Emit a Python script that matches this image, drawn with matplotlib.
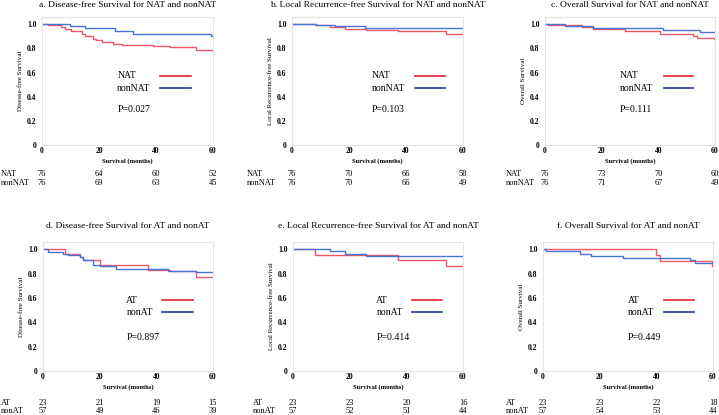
import numpy as np
import matplotlib
matplotlib.use('Agg')
import matplotlib.pyplot as plt

matplotlib.rcParams['font.family'] = 'Liberation Serif'

#---------------------------------------------------------------------------------------#
# data (months, survival probability)
a_nat_t = [0, 2, 6.5, 8, 10, 14, 15, 18, 19, 21, 25, 28, 39, 45, 54, 60]
a_nat_s = [1.0, 0.99, 0.98, 0.96, 0.94, 0.92, 0.90, 0.88, 0.87, 0.85, 0.84, 0.83, 0.82, 0.81, 0.79, 0.79]
a_non_t = [0, 9.7, 15, 25.5, 31.9, 59.3, 60]
a_non_s = [1.0, 0.985, 0.967, 0.945, 0.923, 0.90, 0.90]

b_nat_t = [0, 8.4, 13.2, 18.5, 26, 37.2, 54, 60]
b_nat_s = [1.0, 0.99, 0.978, 0.963, 0.952, 0.94, 0.92, 0.92]
b_non_t = [0, 8.4, 15, 25.5, 60]
b_non_s = [1.0, 0.99, 0.985, 0.97, 0.97]

c_nat_t = [0, 1, 13, 17, 28.2, 40.6, 52.2, 53.5, 59.7, 60]
c_nat_s = [1.0, 0.99, 0.978, 0.959, 0.945, 0.923, 0.903, 0.887, 0.88, 0.88]
c_non_t = [0, 7.1, 17, 41.6, 54.7, 60]
c_non_s = [1.0, 0.986, 0.97, 0.95, 0.937, 0.937]

d_at_t = [0, 7.6, 13, 14.1, 20, 37, 44.7, 54.1, 60]
d_at_s = [1.0, 0.96, 0.94, 0.915, 0.87, 0.83, 0.82, 0.775, 0.775]
d_non_t = [0, 1.8, 7, 8.8, 13, 14.1, 17.6, 20, 25.9, 44.1, 54.1, 60]
d_non_s = [1.0, 0.98, 0.962, 0.95, 0.935, 0.915, 0.875, 0.862, 0.84, 0.825, 0.815, 0.815]

e_at_t = [0, 7.6, 37, 54, 60]
e_at_s = [1.0, 0.957, 0.909, 0.862, 0.862]
e_non_t = [0, 13, 18.2, 25.9, 60]
e_non_s = [1.0, 0.982, 0.965, 0.945, 0.945]

f_at_t = [0, 40, 41.2, 59.7, 60]
f_at_s = [1.0, 0.955, 0.907, 0.865, 0.865]
f_non_t = [0, 1, 13, 17, 28.2, 51.8, 53.5, 60]
f_non_s = [1.0, 0.982, 0.965, 0.947, 0.93, 0.91, 0.89, 0.89]

titles = ["a. Disease-free Survival for NAT and nonNAT",
          "b. Local Recurrence-free Survival for NAT and nonNAT",
          "c. Overall Survival for NAT and nonNAT",
          "d. Disease-free Survival for AT and nonAT",
          "e. Local Recurrence-free Survival for AT and nonAT",
          "f. Overall Survival for AT and nonAT"]
ylabels = ["Disease-free Survival", "Local Recurrence-free Survival", "Overall Survival"] * 2
groups = [("NAT", "nonNAT")] * 3 + [("AT", "nonAT")] * 3
pvalues = ["P=0.027", "P=0.103", "P=0.111", "P=0.897", "P=0.414", "P=0.449"]

risk_times = [0, 20, 40, 60]
risk_g1 = [[76, 64, 60, 52], [76, 70, 66, 58], [76, 73, 70, 60],
           [23, 21, 19, 15], [23, 23, 20, 16], [23, 23, 22, 18]]
risk_g2 = [[76, 69, 63, 45], [76, 70, 66, 49], [76, 71, 67, 49],
           [57, 49, 46, 39], [57, 52, 51, 44], [57, 54, 53, 44]]

curves = [(a_nat_t, a_nat_s, a_non_t, a_non_s),
          (b_nat_t, b_nat_s, b_non_t, b_non_s),
          (c_nat_t, c_nat_s, c_non_t, c_non_s),
          (d_at_t, d_at_s, d_non_t, d_non_s),
          (e_at_t, e_at_s, e_non_t, e_non_s),
          (f_at_t, f_at_s, f_non_t, f_non_s)]

#---------------------------------------------------------------------------------------#
# layout (pixels of a 719x415 figure)
W, H = 719.0, 415.0
ax_left = [42, 292, 545, 43, 293, 543]
ax_right = [213, 463, 715, 213, 463, 713]
ax_top = [17, 17, 17, 242, 242, 242]
ax_bot = [145, 145, 145, 371, 371, 371]
lab_x = [1, 247, 506, 1, 253, 506]
row_y = [(174, 183)] * 3 + [(403, 411)] * 3
leg_x = [0.44, 0.466, 0.44, 0.49, 0.49, 0.498]
leg_line = [(0.69, 0.87), (0.72, 0.895), (0.70, 0.87), (0.70, 0.88), (0.70, 0.877), (0.71, 0.89)]
leg_y = [(0.54, 0.445, 0.28)] * 3 + [(0.55, 0.456, 0.257)] * 3

red_c, blue_c = '#ee5866', '#4674d8'
red_l, blue_l = '#e0202a', '#1f3aa0'

fig = plt.figure(figsize=(7.19, 4.15), dpi=100)

for i in range(6):
    l, r, t, b = ax_left[i], ax_right[i], ax_top[i], ax_bot[i]
    ax = fig.add_axes([l / W, 1 - b / H, (r - l) / W, (b - t) / H])
    t1, s1, t2, s2 = curves[i]
    ax.step(t1, s1, where='post', color=red_c, lw=1.0)
    ax.step(t2, s2, where='post', color=blue_c, lw=1.0)
    ax.set_xlim(0, 60)
    ax.set_ylim(0, 1.06)
    ax.set_xticks([0, 20, 40, 60])
    ax.set_yticks([0, 0.2, 0.4, 0.6, 0.8, 1.0])
    ax.set_yticklabels(["0", "0.2", "0.4", "0.6", "0.8", "1.0"])
    for sp in ax.spines.values():
        sp.set_color('#e4e4e4')
        sp.set_linewidth(0.8)
    ax.tick_params(length=0, labelsize=5.5, pad=1.5)
    ax.tick_params(axis='y', pad=4)
    for lab in ax.get_xticklabels() + ax.get_yticklabels():
        lab.set_fontweight('bold')
    ax.set_xlabel("Survival (months)", fontsize=4.7, fontweight='bold', labelpad=2.5)
    ax.set_ylabel(ylabels[i], fontsize=5, labelpad=3)
    ax.set_title(titles[i], fontsize=6.8, pad=7 if i < 3 else 10)

    # legend drawn by hand
    g1, g2 = groups[i]
    y1, y2, yp = leg_y[i]
    ax.text(leg_x[i], y1, g1, transform=ax.transAxes, fontsize=7, va='center')
    ax.text(leg_x[i], y2, g2, transform=ax.transAxes, fontsize=7, va='center')
    ax.plot(leg_line[i], [y1, y1], transform=ax.transAxes, color=red_l, lw=1.2)
    ax.plot(leg_line[i], [y2, y2], transform=ax.transAxes, color=blue_l, lw=1.2)
    ax.text(leg_x[i], yp, pvalues[i], transform=ax.transAxes, fontsize=7, va='center')

    # numbers at risk
    ya, yb = row_y[i]
    fig.text(lab_x[i] / W, 1 - ya / H, g1, fontsize=6, va='center')
    fig.text(lab_x[i] / W, 1 - yb / H, g2, fontsize=6, va='center')
    for j, tm in enumerate(risk_times):
        xp = (l + (r - l) * tm / 60.0) / W
        fig.text(xp, 1 - ya / H, str(risk_g1[i][j]), fontsize=6, va='center', ha='center')
        fig.text(xp, 1 - yb / H, str(risk_g2[i][j]), fontsize=6, va='center', ha='center')

fig.savefig('out.png', dpi=100)
